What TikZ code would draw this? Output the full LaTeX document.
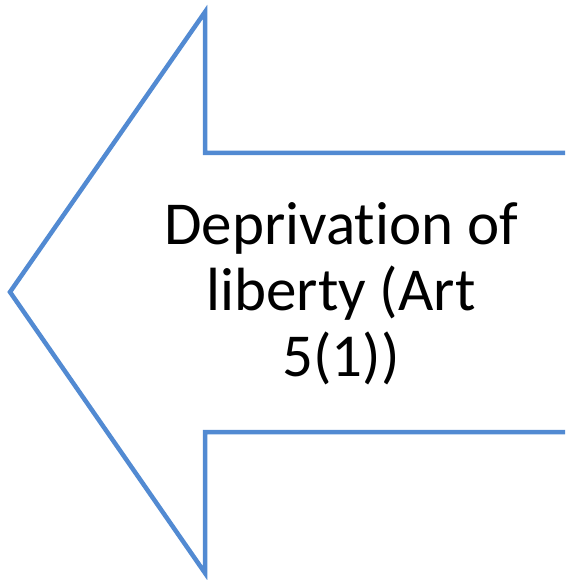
\documentclass[tikz,border=0pt]{standalone}
\usepackage{fontspec}
\setmainfont[Ligatures=NoCommon]{Carlito}
\usepackage{tikz}
\usetikzlibrary{positioning}

\begin{document}
\begin{tikzpicture}[
  x=1pt, y=-1pt,
  arrowline/.style={draw={rgb,255:red,82;green,138;blue,210}, line width=4.5pt, line join=miter},
  label/.style={align=center, font=\fontsize{61}{66}\selectfont, inner sep=0pt}
]
  \useasboundingbox (0,0) rectangle (565,580);
  \clip (0,0) rectangle (565,580);

  \draw[arrowline] (575,153) -- (205,153) -- (205,12) -- (10,292)
    -- (205,573) -- (205,432) -- (575,432);

  \node[label] (title) at (341,294) {Deprivation of\\liberty (Art\\5(1))};
\end{tikzpicture}
\end{document}
